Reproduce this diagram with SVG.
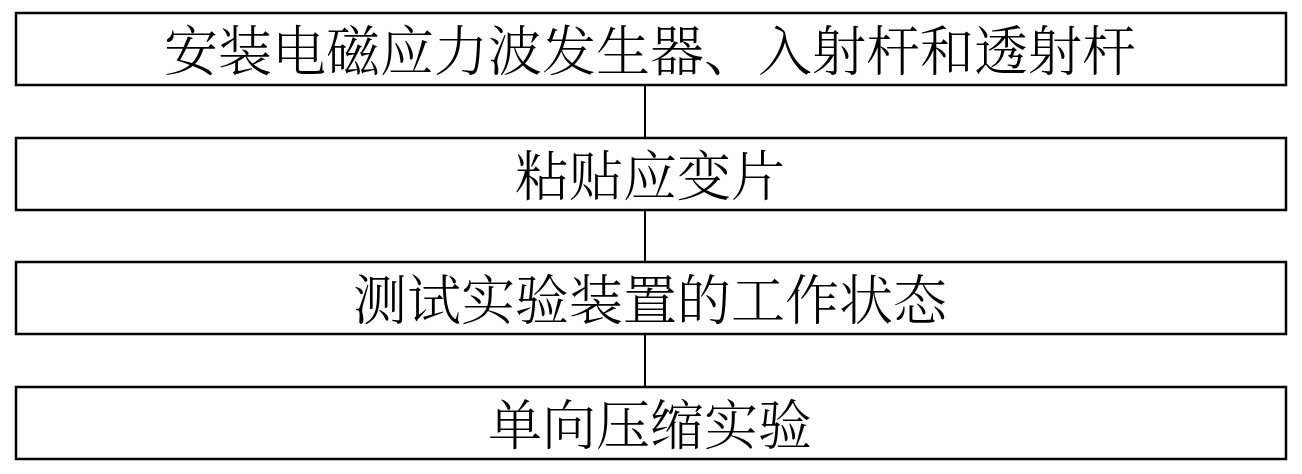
<svg xmlns="http://www.w3.org/2000/svg" width="1302" height="474" viewBox="0 0 1302 474">
<style>
.box{fill:#fff;stroke:#000;stroke-width:2.5}
.lbl{font-family:"Noto Serif CJK SC","Noto Sans CJK SC",sans-serif;font-size:54px;font-weight:300;fill:#000;text-anchor:middle;dominant-baseline:central}
.con{stroke:#000;stroke-width:2;fill:none}
</style>
<rect width="1302" height="474" fill="#fff"/>
<g id="connectors">
<line class="con" x1="645" y1="85" x2="645" y2="138"/>
<line class="con" x1="645" y1="210" x2="645" y2="262"/>
<line class="con" x1="645" y1="334" x2="645" y2="387"/>
</g>
<g id="node1">
<rect class="box" x="16" y="13" width="1270" height="72"/>
<text class="lbl" x="650" y="47">安装电磁应力波发生器、入射杆和透射杆</text>
</g>
<g id="node2">
<rect class="box" x="16" y="138" width="1270" height="72"/>
<text class="lbl" x="650" y="172">粘贴应变片</text>
</g>
<g id="node3">
<rect class="box" x="16" y="262" width="1270" height="72"/>
<text class="lbl" x="650" y="296">测试实验装置的工作状态</text>
</g>
<g id="node4">
<rect class="box" x="16" y="387" width="1270" height="72"/>
<text class="lbl" x="650" y="421">单向压缩实验</text>
</g>
</svg>
